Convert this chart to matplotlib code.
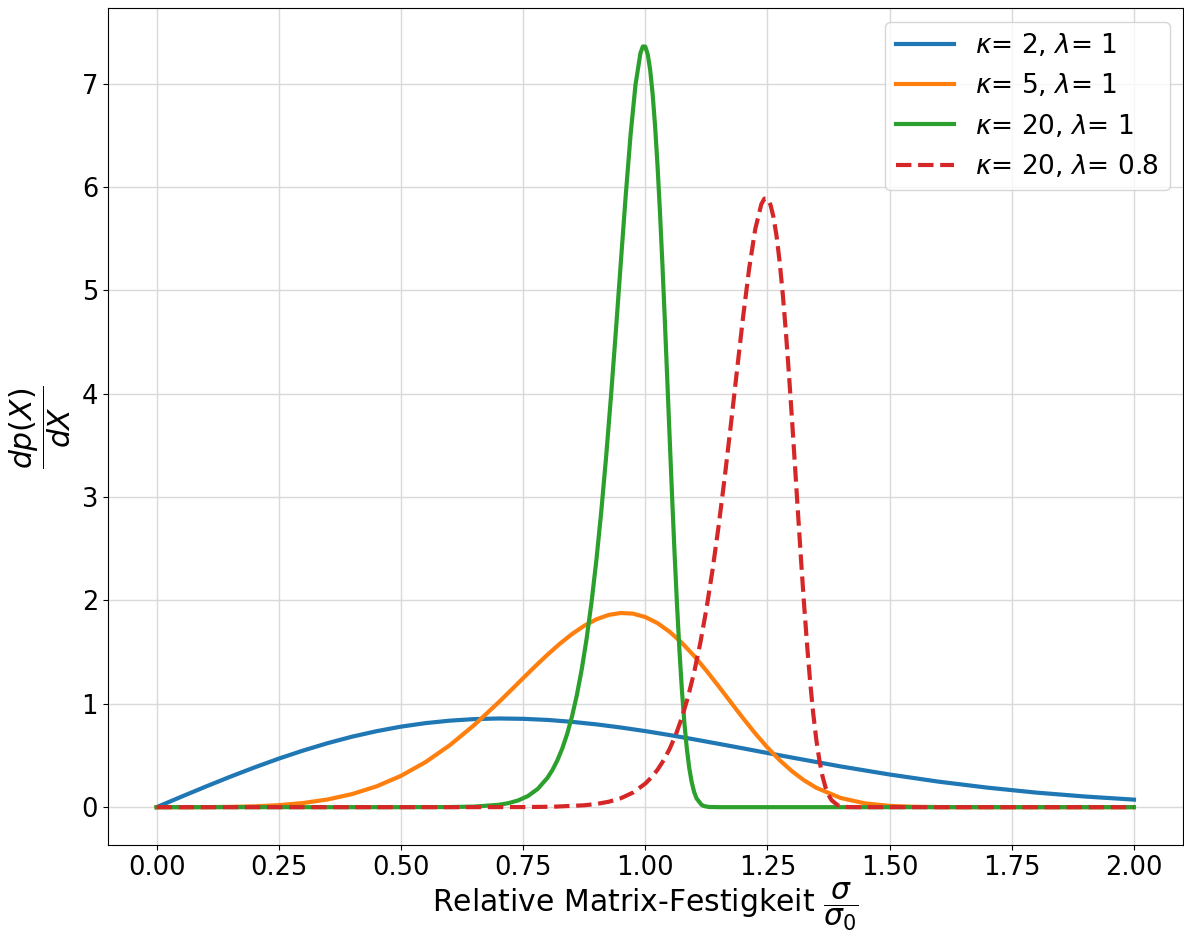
import matplotlib
matplotlib.use("Agg")
import matplotlib.pyplot as plt

# Werte
x_k2 = [0.0, 0.05, 0.1, 0.15, 0.2, 0.25, 0.3, 0.35, 0.4, 0.45, 0.5,
        0.55, 0.6, 0.65, 0.7, 0.75, 0.8, 0.85, 0.9, 0.95, 1.0,
        1.05, 1.1, 1.15, 1.2, 1.25, 1.3, 1.4, 1.5, 1.6, 1.7, 1.8, 1.9, 2.0]
y_k2 = [0.0, 0.0998, 0.198, 0.2933, 0.384, 0.4697, 0.548, 0.6193, 0.682, 0.735, 0.779,
        0.8129, 0.837, 0.852, 0.858, 0.8547, 0.844, 0.8254, 0.801, 0.7706, 0.736,
        0.6974, 0.656, 0.6129, 0.569, 0.524, 0.480, 0.394, 0.316, 0.247, 0.189, 0.141, 0.103, 0.073]

x_k5 = [0.0, 0.05, 0.1, 0.15, 0.2, 0.25, 0.3, 0.35, 0.4, 0.45, 0.5,
        0.55, 0.6, 0.65, 0.7, 0.725, 0.75, 0.775, 0.8, 0.825, 0.85, 0.875,
        0.9, 0.925, 0.95, 0.975, 1.0, 1.025, 1.05, 1.075, 1.1, 1.125, 1.15, 1.175,
        1.2, 1.225, 1.25, 1.275, 1.3, 1.325, 1.35, 1.4, 1.45, 1.5,
        1.55, 1.6, 1.65, 1.7, 1.8, 1.9, 2.0]
y_k5 = [0.0, 0.0, 0.0005, 0.0025, 0.008, 0.0195, 0.0404, 0.0746, 0.1267, 0.2013, 0.3029,
        0.4351, 0.5995, 0.7948, 1.0148, 1.1307, 1.2479, 1.3639, 1.4758, 1.5805, 1.6747, 1.7549,
        1.8176, 1.8597, 1.8785, 1.8722, 1.8394, 1.7803, 1.6962, 1.589, 1.4627, 1.3211, 1.1702, 1.0149,
        0.861, 0.7135, 0.5771, 0.4547, 0.3486, 0.2595, 0.1875, 0.0887, 0.0364, 0.0127,
        0.0038, 0.0009, 0.0002, 0.0, 0.0, 0.0, 0.0]

x_k20 = [0.0, 0.5, 0.6, 0.65, 0.7, 0.72, 0.74, 0.76, 0.78, 0.8, 0.81, 0.82, 0.83,
         0.84, 0.85, 0.86, 0.87, 0.88, 0.89, 0.9, 0.91, 0.92, 0.93, 0.94, 0.95,
         0.96, 0.97, 0.98, 0.99, 0.995, 1.0, 1.005, 1.01, 1.015, 1.02, 1.025, 1.03,
         1.035, 1.04, 1.045, 1.05, 1.055, 1.06, 1.065, 1.07, 1.075, 1.08, 1.085,
         1.09, 1.095, 1.1, 1.105, 1.115, 1.12, 1.13, 1.15, 2.0]
y_k20 = [0.0, 0.0, 0.0012, 0.0056, 0.0228, 0.0389, 0.0654, 0.1083, 0.1769, 0.2849, 0.3596, 0.4522, 0.5662,
         0.7064, 0.8772, 1.0845, 1.3339, 1.6312, 1.9823, 2.3924, 2.8639, 3.3966, 3.9857, 4.618, 5.2731,
         5.919, 6.5094, 6.989, 7.292, 7.359, 7.358, 7.283, 7.132, 6.901, 6.593, 6.211, 5.762,
         5.257, 4.711, 4.138, 3.559, 2.990, 2.449, 1.9517, 1.509, 1.1296, 0.8162, 0.5676,
         0.3784, 0.2414, 0.1465, 0.0843, 0.0234, 0.0111, 0.002, 0.0, 0.0]

x_k20_l08 = [0.0, 0.625, 0.75, 0.8125, 0.875, 0.9, 0.925, 0.95, 0.975, 1.0, 1.0125, 1.025, 1.0375,
             1.05, 1.0625, 1.075, 1.0875, 1.1, 1.1125, 1.125, 1.1375, 1.15, 1.1625, 1.175, 1.1875,
             1.2, 1.2125, 1.225, 1.2375, 1.24375, 1.25, 1.25625, 1.2625, 1.26875, 1.275, 1.28125, 1.2875,
             1.29375, 1.3, 1.30625, 1.3125, 1.31875, 1.325, 1.33125, 1.3375, 1.34375, 1.35, 1.35625,
             1.3625, 1.36875, 1.375, 1.38125, 1.39375, 1.4, 1.4125, 1.4375, 2.0]
y_k20_l08 = [0.0, 0.0, 0.001, 0.0045, 0.0182, 0.0311, 0.0523, 0.0866, 0.1415, 0.2279, 0.2877, 0.3618, 0.453,
             0.5651, 0.7018, 0.8676, 1.0671, 1.305, 1.5858, 1.9139, 2.2911, 2.7173, 3.1886, 3.6944, 4.2185,
             4.7352, 5.2075, 5.5912, 5.8336, 5.887, 5.8864, 5.826, 5.7056, 5.521, 5.2744, 4.969, 4.6096,
             4.206, 3.7688, 3.31, 2.8472, 2.392, 1.9592, 1.561, 1.2072, 0.9037, 0.653, 0.4541,
             0.3027, 0.1931, 0.1172, 0.0674, 0.0187, 0.0089, 0.0016, 0.0, 0.0]

labels = [r'$\kappa$= 2, $\lambda$= 1', r'$\kappa$= 5, $\lambda$= 1',
          r'$\kappa$= 20, $\lambda$= 1', r'$\kappa$= 20, $\lambda$= 0.8']

fig, ax = plt.subplots(figsize=(11.84, 9.36), dpi=100)
fig.subplots_adjust(left=0.091, right=0.999, bottom=0.097, top=0.991)

ax.plot(x_k2, y_k2, color='#1f77b4', lw=3, label=labels[0])
ax.plot(x_k5, y_k5, color='#ff7f0e', lw=3, label=labels[1])
ax.plot(x_k20, y_k20, color='#2ca02c', lw=3, label=labels[2])
ax.plot(x_k20_l08, y_k20_l08, color='#d62728', lw=3, ls='--', label=labels[3])

ax.set_xticks([0.0, 0.25, 0.5, 0.75, 1.0, 1.25, 1.5, 1.75, 2.0])
ax.set_xticklabels(['0.00', '0.25', '0.50', '0.75', '1.00', '1.25', '1.50', '1.75', '2.00'])
ax.tick_params(labelsize=18.5)
ax.grid(True, color='#d9d9d9', lw=1)
ax.set_axisbelow(True)

ax.set_xlabel(r'Relative Matrix-Festigkeit $\dfrac{\sigma}{\sigma_0}$', fontsize=21.5, labelpad=0)
ax.set_ylabel(r'$\dfrac{dp(X)}{dX}$', fontsize=21.5, labelpad=6)
ax.legend(loc='upper right', fontsize=19, handlelength=2.2)

fig.savefig('out.png')
